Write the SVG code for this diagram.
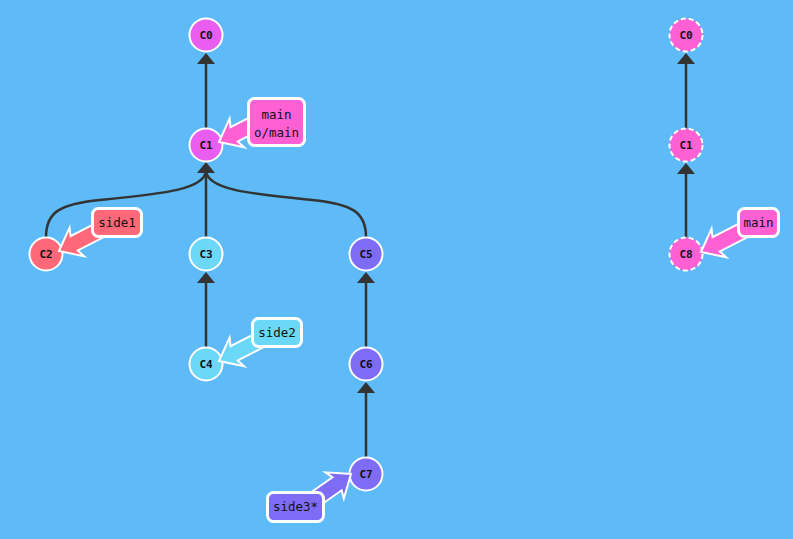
<svg xmlns="http://www.w3.org/2000/svg" xmlns:xlink="http://www.w3.org/1999/xlink" width="793" height="539" viewBox="0 0 793 539">
<style>
.bg{fill:#5fbaf8}
.edge{fill:none;stroke:#333;stroke-width:2.5}
.ah{fill:#333}
.node{stroke:#fff;stroke-width:2}
.dash{stroke-dasharray:5 3}
.nl{font-family:"DejaVu Sans Mono","Liberation Mono",monospace;font-size:11px;font-weight:bold;text-anchor:middle;fill:#111}
.bl{font-family:"DejaVu Sans Mono","Liberation Mono",monospace;font-size:12.5px;text-anchor:middle;fill:#111}
.box{stroke:#fff;stroke-width:3}
.arr{stroke:#fff;stroke-width:2;stroke-linejoin:miter}
.mag{fill:#e95ef0}
.pink{fill:#ff60d3}
.red{fill:#ff6878}
.cyan{fill:#6cd8f8}
.pur{fill:#7f6cf6}
</style>
<defs>
<path id="ah" d="M0,0 L-9,11 L9,11 Z"/>
<polygon id="fat" points="0,0 20,-16 17,-8 50,-8 50,8 17,8 20,16"/>
</defs>
<rect class="bg" x="0" y="0" width="793" height="539"/>
<g id="connectors">
<line class="edge" x1="206" y1="128" x2="206" y2="63"/>
<use href="#ah" class="ah" x="206" y="53"/>
<line class="edge" x1="206" y1="237" x2="206" y2="172"/>
<path class="edge" d="M46,237 C46,212 60,204 100,200 C160,194 206,190 206,170"/>
<path class="edge" d="M366,237 C366,212 352,204 312,200 C252,194 206,190 206,170"/>
<use href="#ah" class="ah" x="206" y="162"/>
<line class="edge" x1="206" y1="347" x2="206" y2="282"/>
<use href="#ah" class="ah" x="206" y="272"/>
<line class="edge" x1="366" y1="347" x2="366" y2="282"/>
<use href="#ah" class="ah" x="366" y="272"/>
<line class="edge" x1="366" y1="457" x2="366" y2="392"/>
<use href="#ah" class="ah" x="366" y="382"/>
<line class="edge" x1="686" y1="128" x2="686" y2="63"/>
<use href="#ah" class="ah" x="686" y="53"/>
<line class="edge" x1="686" y1="237" x2="686" y2="173"/>
<use href="#ah" class="ah" x="686" y="163"/>
</g>
<g id="C0"><circle class="node mag" cx="206" cy="35" r="16.5"/><text class="nl" x="206" y="39">C0</text></g>
<g id="C1"><circle class="node mag" cx="206" cy="145" r="16.5"/><text class="nl" x="206" y="149">C1</text></g>
<g id="C2"><circle class="node red" cx="46" cy="254" r="16.5"/><text class="nl" x="46" y="258">C2</text></g>
<g id="C3"><circle class="node cyan" cx="206" cy="254" r="16.5"/><text class="nl" x="206" y="258">C3</text></g>
<g id="C4"><circle class="node cyan" cx="206" cy="364" r="16.5"/><text class="nl" x="206" y="368">C4</text></g>
<g id="C5"><circle class="node pur" cx="366" cy="254" r="16.5"/><text class="nl" x="366" y="258">C5</text></g>
<g id="C6"><circle class="node pur" cx="366" cy="364" r="16.5"/><text class="nl" x="366" y="368">C6</text></g>
<g id="C7"><circle class="node pur" cx="366" cy="474" r="16.5"/><text class="nl" x="366" y="478">C7</text></g>
<g id="R-C0"><circle class="node pink dash" cx="686" cy="35" r="16.5"/><text class="nl" x="686" y="39">C0</text></g>
<g id="R-C1"><circle class="node pink dash" cx="686" cy="145" r="16.5"/><text class="nl" x="686" y="149">C1</text></g>
<g id="R-C8"><circle class="node pink dash" cx="686" cy="254" r="16.5"/><text class="nl" x="686" y="258">C8</text></g>
<g id="label-main">
<use href="#fat" class="arr pink" transform="translate(219,142) rotate(-27)"/>
<rect class="box pink" x="248.5" y="98.5" width="56" height="47" rx="6"/>
<text class="bl" x="276.5" y="119">main</text>
<text class="bl" x="276.5" y="137">o/main</text>
</g>
<g id="label-side1">
<use href="#fat" class="arr red" transform="translate(59,251) rotate(-27)"/>
<rect class="box red" x="92.5" y="208.5" width="49" height="28" rx="6"/>
<text class="bl" x="117" y="226.5">side1</text>
</g>
<g id="label-side2">
<use href="#fat" class="arr cyan" transform="translate(219,361) rotate(-27)"/>
<rect class="box cyan" x="252.5" y="318.5" width="49" height="28" rx="6"/>
<text class="bl" x="277" y="336.5">side2</text>
</g>
<g id="label-side3">
<use href="#fat" class="arr pur" transform="translate(351,474) rotate(145)"/>
<rect class="box pur" x="267.5" y="492.5" width="56" height="29" rx="6"/>
<text class="bl" x="295.5" y="511">side3*</text>
</g>
<g id="label-main-r">
<use href="#fat" class="arr pink" transform="translate(701,252) rotate(-27)"/>
<rect class="box pink" x="738.5" y="208.5" width="40" height="28" rx="6"/>
<text class="bl" x="758.5" y="226.5">main</text>
</g>
</svg>
